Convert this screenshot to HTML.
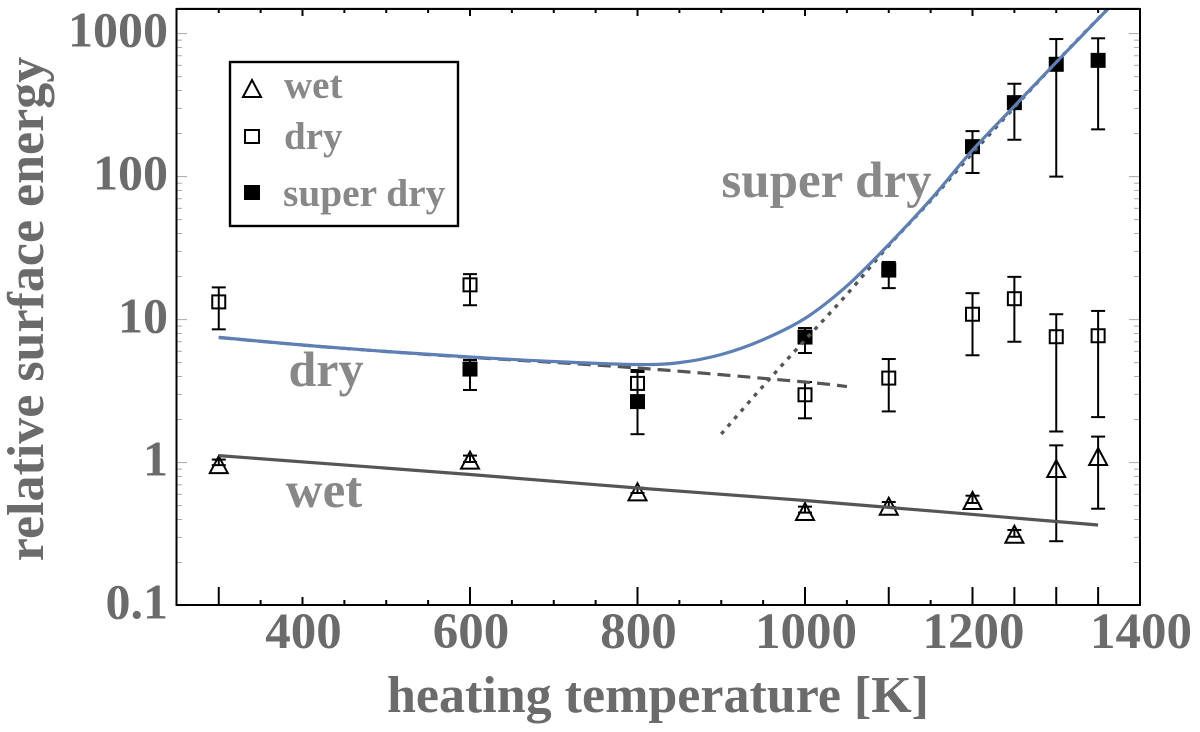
<!DOCTYPE html>
<html>
<head>
<meta charset="utf-8">
<title>Relative surface energy</title>
<style>
html,body{margin:0;padding:0;background:#fff;width:1200px;height:732px;overflow:hidden}
svg{display:block}
text{font-family:"Liberation Serif",serif;font-weight:bold}
</style>
</head>
<body>
<svg id="chart" width="1200" height="732" viewBox="0 0 1200 732" xmlns="http://www.w3.org/2000/svg">
  <defs><clipPath id="plot-clip"><rect x="177" y="10" width="963" height="595"/></clipPath></defs>
  <g id="ticks"></g>
  <g id="curves" clip-path="url(#plot-clip)"></g>
  <g id="points"></g>
  <rect x="176.5" y="7.6" width="963.5" height="1.4" fill="#aaa"/>
  <rect x="176.5" y="9" width="963.5" height="596" fill="none" stroke="#000" stroke-width="2"/>
  <g id="labels" fill="#6b6b6b"></g>
  <text x="658" y="712" font-size="52" fill="#6b6b6b" text-anchor="middle">heating temperature [K]</text>
  <text transform="translate(43,309) rotate(-90)" font-size="52" fill="#6b6b6b" text-anchor="middle">relative surface energy</text>
  <text x="826.5" y="197" font-size="51" fill="#888" text-anchor="middle">super dry</text>
  <text x="326" y="386" font-size="50" fill="#888" text-anchor="middle">dry</text>
  <text x="324" y="507" font-size="51" fill="#888" text-anchor="middle">wet</text>
  <g>
    <rect x="230" y="62" width="228" height="164" fill="#fff" stroke="#000" stroke-width="2.4"/>
    <polygon points="252,80 261,97 243,97" fill="none" stroke="#000" stroke-width="2"/>
    <rect x="245" y="130" width="14" height="13" fill="none" stroke="#000" stroke-width="2"/>
    <rect x="244" y="185" width="16" height="15" fill="#000"/>
    <text x="284" y="98" font-size="39" fill="#888">wet</text>
    <text x="284" y="149" font-size="39" fill="#888">dry</text>
    <text x="283" y="206" font-size="39.4" fill="#888">super dry</text>
  </g>
</svg>
<script>
const xTickLabels = [400, 600, 800, 1000, 1200, 1400];
const yTickLabels = [0.1, 1, 10, 100, 1000];
const measuredTemps = [300, 600, 800, 1000, 1100, 1200, 1250, 1300, 1350];

const wetTemps = [300, 600, 800, 1000, 1100, 1200, 1250, 1300, 1350];
const wetValues = [0.93, 1.00, 0.60, 0.437, 0.476, 0.522, 0.303, 0.873, 1.06];
const wetHigh = [1.05, 1.12, 0.667, 0.492, 0.53, 0.587, 0.338, 1.32, 1.52];
const wetLow = [0.96, 1.01, 0.613, 0.447, 0.49, 0.522, 0.303, 0.282, 0.476];

const dryTemps = [300, 600, 800, 1000, 1100, 1200, 1250, 1300, 1350];
const dryValues = [13.3, 17.5, 3.58, 2.98, 3.9, 10.9, 14.0, 7.59, 7.71];
const dryHigh = [16.8, 20.8, 4.3, 3.66, 5.3, 15.3, 19.9, 10.9, 11.5];
const dryLow = [8.55, 12.6, 2.92, 2.04, 2.28, 5.63, 7.0, 1.65, 2.08];

const superTemps = [600, 800, 1000, 1100, 1200, 1250, 1300, 1350];
const superValues = [4.51, 2.67, 7.55, 22.2, 162, 329, 610, 650];
const superHigh = [5.22, 4.44, 8.73, 25.3, 208, 446, 916, 927];
const superLow = [3.22, 1.58, 5.84, 16.6, 106, 181, 100, 214];

const wetFitTemps = [300, 600, 800, 1000, 1350];
const wetFitValues = [1.12, 0.825, 0.664, 0.543, 0.366];
const dryFitTemps = [300, 400, 500, 600, 800, 1000, 1050];
const dryFitValues = [7.5, 6.64, 5.98, 5.45, 4.59, 3.66, 3.4];
const superFitTemps = [900, 950, 1000, 1050, 1100, 1150, 1200, 1300, 1365];
const superFitValues = [1.585, 3.43, 7.2, 15, 33, 68, 146, 631, 1560];
const totalFitTemps = [300, 400, 500, 600, 700, 800, 850, 900, 950, 1000, 1050, 1100, 1150, 1200, 1250, 1300, 1365];
const totalFitValues = [7.52, 6.64, 5.98, 5.48, 5.09, 4.85, 5.0, 5.7, 7.24, 10.2, 17.2, 33.5, 69, 153, 311, 631, 1560];

const NS = 'http://www.w3.org/2000/svg';
function xScale(t){ return 302.5 + (t - 400) * 0.8375; }
function yScale(v){ return 462.6 - 143 * Math.log10(v); }
function make(tag, attrs, parent){
  const el = document.createElementNS(NS, tag);
  for (const k in attrs) el.setAttribute(k, attrs[k]);
  parent.appendChild(el);
  return el;
}
const ticksG = document.getElementById('ticks');
const curvesG = document.getElementById('curves');
const pointsG = document.getElementById('points');
const labelsG = document.getElementById('labels');

// x ticks
for (let t = 300; t <= 1350; t += 50) {
  const major = t % 200 === 0;
  const bottomLen = measuredTemps.includes(t) ? 18 : (major ? 8 : 5);
  const topLen = major ? 7 : 4;
  const b = make('line', {x1: xScale(t), x2: xScale(t), y1: 605, y2: 605 - bottomLen, stroke: '#000', 'stroke-width': 2}, ticksG);
  
  
  const a = make('line', {x1: xScale(t), x2: xScale(t), y1: 9, y2: 9 + topLen, stroke: '#000', 'stroke-width': 2}, ticksG);
  
  
}
// y ticks (log)
for (const dec of [0.1, 1, 10, 100, 1000]) {
  for (let m = 1; m <= 9; m++) {
    const v = dec * m;
    if (v > 1400) continue;
    const y = yScale(v);
    const len = m === 1 ? 10 : 5;
    const l = make('line', {x1: 177, x2: 177 + len, y1: y, y2: y, stroke: '#aaa', 'stroke-width': 1}, ticksG);
    
    
    const r = make('line', {x1: 1139, x2: 1139 - len, y1: y, y2: y, stroke: '#aaa', 'stroke-width': 1}, ticksG);
    
    
  }
}
// tick labels
for (const t of xTickLabels) {
  const el = make('text', {x: xScale(t) + 1, y: 648, 'font-size': 51, 'text-anchor': 'middle'}, labelsG);
  el.textContent = t;
  
  
}
for (const v of yTickLabels) {
  const el = make('text', {x: 168, y: yScale(v) + 13, 'font-size': 50, 'text-anchor': 'end'}, labelsG);
  el.textContent = v;
  
  
}
// curves
function smoothFrom(ts, vs){
  const p = ts.map((t, i) => [xScale(t), yScale(vs[i])]);
  let d = 'M' + p[0][0].toFixed(1) + ' ' + p[0][1].toFixed(1);
  for (let i = 0; i < p.length - 1; i++) {
    const a = p[Math.max(i - 1, 0)], b = p[i], c = p[i + 1], e = p[Math.min(i + 2, p.length - 1)];
    d += ' C' + (b[0] + (c[0] - a[0]) / 6).toFixed(1) + ' ' + (b[1] + (c[1] - a[1]) / 6).toFixed(1) + ' ' +
         (c[0] - (e[0] - b[0]) / 6).toFixed(1) + ' ' + (c[1] - (e[1] - b[1]) / 6).toFixed(1) + ' ' +
         c[0].toFixed(1) + ' ' + c[1].toFixed(1);
  }
  return d;
}
const wetFit = make('path', {d: smoothFrom(wetFitTemps, wetFitValues), fill: 'none', stroke: '#555', 'stroke-width': 3.2}, curvesG);


const dryFit = make('path', {d: smoothFrom(dryFitTemps, dryFitValues), fill: 'none', stroke: '#555', 'stroke-width': 3.2, 'stroke-dasharray': '13 7'}, curvesG);


const superFit = make('path', {d: smoothFrom(superFitTemps, superFitValues), fill: 'none', stroke: '#555', 'stroke-width': 3.4, 'stroke-dasharray': '4 6'}, curvesG);


const totalFit = make('path', {d: smoothFrom(totalFitTemps, totalFitValues), fill: 'none', stroke: '#5c7fb5', 'stroke-width': 3.2}, curvesG);



// points
function errorBar(x, hi, lo, name){
  const g = make('g', {stroke: '#000', 'stroke-width': 2, fill: 'none'}, pointsG);
  
  
  make('line', {x1: x, x2: x, y1: yScale(hi), y2: yScale(lo)}, g);
  make('line', {x1: x - 7, x2: x + 7, y1: yScale(hi), y2: yScale(hi)}, g);
  make('line', {x1: x - 7, x2: x + 7, y1: yScale(lo), y2: yScale(lo)}, g);
}
wetTemps.forEach((t, i) => {
  const x = xScale(t);
  errorBar(x, wetHigh[i], wetLow[i], 'wet-error-bar');
  const y = yScale(wetValues[i]);
  const m = make('polygon', {points: x + ',' + (y - 11) + ' ' + (x + 9) + ',' + (y + 6) + ' ' + (x - 9) + ',' + (y + 6), fill: 'none', stroke: '#000', 'stroke-width': 2}, pointsG);
  
  
});
dryTemps.forEach((t, i) => {
  const x = xScale(t);
  errorBar(x, dryHigh[i], dryLow[i], 'dry-error-bar');
  const y = yScale(dryValues[i]);
  const m = make('rect', {x: x - 6.5, y: y - 6.5, width: 13, height: 13, fill: 'none', stroke: '#000', 'stroke-width': 2}, pointsG);
  
  
});
superTemps.forEach((t, i) => {
  const x = xScale(t);
  errorBar(x, superHigh[i], superLow[i], 'super-dry-error-bar');
  const y = yScale(superValues[i]);
  const m = make('rect', {x: x - 7.5, y: y - 7.5, width: 15, height: 15, fill: '#000'}, pointsG);
  
  
});
// Fits stay visible above the filled markers, as in the source figure
pointsG.parentNode.insertBefore(pointsG, curvesG);
</script>
</body>
</html>
